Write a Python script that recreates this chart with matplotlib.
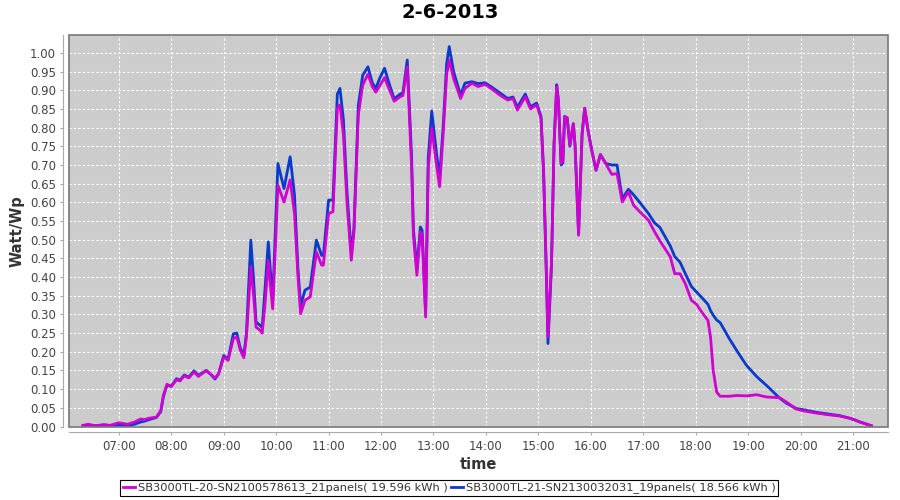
import numpy as np
import matplotlib
matplotlib.use('Agg')
import matplotlib.pyplot as plt
from matplotlib.patches import Rectangle
from matplotlib.ticker import FixedLocator, FuncFormatter

# data
times = ['06:19', '06:25', '06:33', '06:43', '06:50', '07:00', '07:10', '07:18', '07:25', '07:29',
         '07:34', '07:43', '07:48', '07:51', '07:55', '08:00', '08:06', '08:10', '08:15', '08:20',
         '08:26', '08:31', '08:40', '08:45', '08:50', '08:54', '09:00', '09:05', '09:11', '09:15',
         '09:19', '09:23', '09:26', '09:31', '09:34', '09:37', '09:42', '09:44', '09:47', '09:51',
         '09:53', '09:56', '09:59', '10:02', '10:09', '10:16', '10:21', '10:25', '10:28', '10:33',
         '10:39', '10:46', '10:52', '10:54', '11:00', '11:05', '11:10', '11:13', '11:17', '11:21',
         '11:26', '11:29', '11:34', '11:39', '11:45', '11:50', '11:54', '11:59', '12:04', '12:09',
         '12:15', '12:22', '12:25', '12:30', '12:35', '12:37', '12:41', '12:45', '12:47', '12:51',
         '12:54', '12:58', '13:04', '13:07', '13:11', '13:15', '13:18', '13:23', '13:31', '13:36',
         '13:44', '13:51', '13:59', '14:07', '14:16', '14:25', '14:31', '14:36', '14:45', '14:51',
         '14:58', '15:03', '15:06', '15:09', '15:11', '15:15', '15:18', '15:21', '15:23', '15:26',
         '15:28', '15:30', '15:33', '15:36', '15:40', '15:42', '15:46', '15:50', '15:53', '15:57',
         '16:01', '16:06', '16:11', '16:17', '16:24', '16:30', '16:36', '16:43', '16:49', '16:56',
         '17:06', '17:13', '17:19', '17:31', '17:36', '17:42', '17:48', '17:55', '18:01', '18:07',
         '18:14', '18:17', '18:20', '18:24', '18:28', '18:39', '18:47', '18:58', '19:10', '19:21',
         '19:36', '19:44', '19:55', '20:03', '20:18', '20:30', '20:45', '20:58', '21:08', '21:21']

sb20 = [0.003, 0.006, 0.002, 0.005, 0.003, 0.010, 0.006, 0.012, 0.020, 0.018,
        0.022, 0.025, 0.043, 0.083, 0.113, 0.107, 0.125, 0.122, 0.136, 0.130,
        0.146, 0.134, 0.150, 0.140, 0.130, 0.140, 0.186, 0.177, 0.235, 0.240,
        0.204, 0.184, 0.240, 0.427, 0.356, 0.266, 0.257, 0.250, 0.320, 0.445,
        0.390, 0.315, 0.472, 0.646, 0.601, 0.660, 0.570, 0.400, 0.302, 0.338,
        0.347, 0.467, 0.432, 0.432, 0.570, 0.575, 0.852, 0.861, 0.780, 0.601,
        0.445, 0.521, 0.834, 0.914, 0.943, 0.910, 0.895, 0.914, 0.934, 0.905,
        0.871, 0.883, 0.886, 0.963, 0.691, 0.512, 0.405, 0.521, 0.515, 0.293,
        0.691, 0.800, 0.691, 0.642, 0.780, 0.941, 0.981, 0.932, 0.878, 0.905,
        0.919, 0.910, 0.916, 0.903, 0.887, 0.874, 0.878, 0.847, 0.883, 0.850,
        0.861, 0.825, 0.680, 0.423, 0.240, 0.440, 0.760, 0.910, 0.869, 0.704,
        0.710, 0.829, 0.826, 0.753, 0.811, 0.753, 0.512, 0.780, 0.852, 0.789,
        0.740, 0.686, 0.728, 0.704, 0.675, 0.677, 0.601, 0.628, 0.592, 0.575,
        0.552, 0.521, 0.497, 0.454, 0.409, 0.409, 0.383, 0.338, 0.327, 0.306,
        0.284, 0.239, 0.150, 0.092, 0.081, 0.081, 0.083, 0.082, 0.085, 0.079,
        0.077, 0.065, 0.047, 0.042, 0.036, 0.032, 0.028, 0.021, 0.012, 0.002]

sb21 = [0.002, 0.004, 0.002, 0.004, 0.002, 0.004, 0.003, 0.006, 0.012, 0.014,
        0.018, 0.024, 0.040, 0.080, 0.110, 0.108, 0.128, 0.124, 0.138, 0.132,
        0.149, 0.137, 0.150, 0.140, 0.127, 0.140, 0.190, 0.180, 0.248, 0.250,
        0.210, 0.190, 0.250, 0.499, 0.400, 0.280, 0.270, 0.265, 0.360, 0.494,
        0.430, 0.335, 0.520, 0.704, 0.637, 0.722, 0.620, 0.420, 0.324, 0.365,
        0.373, 0.499, 0.458, 0.458, 0.606, 0.606, 0.890, 0.905, 0.820, 0.630,
        0.463, 0.530, 0.860, 0.940, 0.963, 0.920, 0.905, 0.935, 0.959, 0.920,
        0.877, 0.890, 0.893, 0.981, 0.720, 0.530, 0.423, 0.534, 0.525, 0.306,
        0.720, 0.845, 0.720, 0.668, 0.800, 0.970, 1.017, 0.950, 0.887, 0.919,
        0.923, 0.918, 0.920, 0.908, 0.893, 0.878, 0.882, 0.855, 0.890, 0.856,
        0.866, 0.830, 0.680, 0.420, 0.222, 0.430, 0.760, 0.915, 0.870, 0.700,
        0.705, 0.830, 0.826, 0.750, 0.810, 0.750, 0.515, 0.785, 0.852, 0.790,
        0.740, 0.686, 0.728, 0.704, 0.700, 0.700, 0.610, 0.635, 0.620, 0.600,
        0.570, 0.545, 0.533, 0.483, 0.455, 0.440, 0.410, 0.375, 0.360, 0.345,
        0.327, 0.310, 0.298, 0.285, 0.278, 0.233, 0.203, 0.164, 0.133, 0.110,
        0.076, 0.062, 0.048, 0.045, 0.038, 0.034, 0.029, 0.021, 0.012, 0.002]

labels = ['SB3000TL-20-SN2100578613_21panels( 19.596 kWh )',
          'SB3000TL-21-SN2130032031_19panels( 18.566 kWh )']
hour_ticks = list(range(7, 22))

# convert HH:MM to decimal hours
hrs = np.array([int(t[:2]) + int(t[3:]) / 60 for t in times])

fig = plt.figure(figsize=(9, 5), dpi=100)
ax = fig.add_axes([69 / 900, 1 - 426.5 / 500, (888 - 69) / 900, (426.5 - 35) / 500])
ax.set_facecolor('#cccccc')

l2, = ax.plot(hrs, sb21, color='#0a3acc', lw=2, zorder=3)
l1, = ax.plot(hrs, sb20, color='#d000d0', lw=2, zorder=4)

ax.set_xlim(6 + 3 / 60, 21 + 40 / 60)
ax.set_ylim(0, 1.048)

ax.xaxis.set_major_locator(FixedLocator(hour_ticks))
ax.xaxis.set_major_formatter(FuncFormatter(lambda v, p: '%02d:00' % int(round(v))))
ax.yaxis.set_major_locator(FixedLocator(np.arange(0, 1.0001, 0.05)))
ax.yaxis.set_major_formatter(FuncFormatter(lambda v, p: '%.2f' % v))

ax.grid(True, color='white', ls=(0, (2, 2)), lw=0.8)
ax.set_axisbelow(True)

# offset axis lines like the original
for side in ['top', 'right']:
    ax.spines[side].set_visible(False)
for side in ['left', 'bottom']:
    ax.spines[side].set_position(('outward', 4))
    ax.spines[side].set_color('#aaaaaa')
ax.add_patch(Rectangle((0, 0), 1, 1, transform=ax.transAxes, fill=False,
                       ec='#777777', lw=1.2, zorder=5, clip_on=False))

ax.tick_params(axis='both', labelsize=8.5, labelcolor='#444444', color='#aaaaaa',
               length=2, width=0.8)

ax.set_xlabel('time', fontsize=10.5, fontweight='bold', color='#333333', labelpad=3)
ax.set_ylabel('Watt/Wp', fontsize=10.5, fontweight='bold', color='#333333', labelpad=4)
fig.suptitle('2-6-2013', fontsize=14, fontweight='bold', y=0.995)

leg = fig.legend([l1, l2], labels, loc='center', bbox_to_anchor=(0.499, 0.024), ncol=2,
                 fontsize=8.2, frameon=True, fancybox=False, edgecolor='black',
                 framealpha=1, handlelength=1.1, handletextpad=0.2, columnspacing=0.3,
                 borderpad=0.25, borderaxespad=0)
leg.get_frame().set_linewidth(0.8)
for t in leg.get_texts():
    t.set_color('#333333')

fig.savefig('out.png', dpi=100)
